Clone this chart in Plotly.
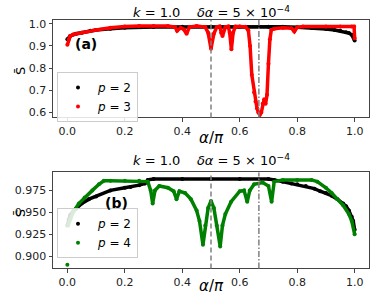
import plotly.graph_objects as go

# ---------------- data ----------------
# panel (a)
a_p2_x = [0.0, 0.01, 0.03, 0.05, 0.08, 0.1, 0.15, 0.2, 0.3, 0.4, 0.5, 0.6, 0.7, 0.75, 0.8,
          0.85, 0.9, 0.93, 0.95, 0.97, 0.98, 0.99, 1.0]
a_p2_y = [0.93, 0.945, 0.955, 0.96, 0.968, 0.972, 0.978, 0.982, 0.985, 0.986, 0.987, 0.987,
          0.987, 0.986, 0.984, 0.981, 0.976, 0.972, 0.968, 0.962, 0.958, 0.95, 0.925]

a_p3_x = [0.0, 0.005, 0.01, 0.02, 0.05, 0.1, 0.15, 0.2, 0.25, 0.3, 0.35, 0.375, 0.382, 0.395,
          0.405, 0.415, 0.425, 0.45, 0.48, 0.49, 0.5, 0.51, 0.52, 0.53, 0.535, 0.54, 0.55,
          0.56, 0.565, 0.571, 0.577, 0.585, 0.6, 0.62, 0.63, 0.636, 0.642, 0.65, 0.655, 0.66,
          0.665, 0.67, 0.675, 0.68, 0.685, 0.69, 0.695, 0.70, 0.705, 0.71, 0.72, 0.75, 0.78,
          0.79, 0.80, 0.82, 0.9, 0.95, 0.99, 0.998, 1.0]
a_p3_y = [0.905, 0.93, 0.945, 0.952, 0.96, 0.972, 0.982, 0.988, 0.99, 0.99, 0.99, 0.985,
          0.968, 0.982, 0.975, 0.955, 0.985, 0.99, 0.985, 0.96, 0.888, 0.955, 0.985, 0.988,
          0.96, 0.945, 0.985, 0.988, 0.96, 0.885, 0.96, 0.988, 0.988, 0.986, 0.97, 0.9,
          0.77, 0.69, 0.65, 0.62, 0.6, 0.59, 0.6, 0.64, 0.66, 0.64, 0.68, 0.82, 0.93, 0.972,
          0.978, 0.982, 0.98, 0.965, 0.984, 0.988, 0.988, 0.988, 0.988, 0.988, 0.935]

# panel (b)
b_p2_x = [0.0, 0.005, 0.01, 0.02, 0.03, 0.05, 0.075, 0.1, 0.15, 0.2, 0.22, 0.25, 0.27, 0.28,
          0.3, 0.4, 0.5, 0.6, 0.7, 0.72, 0.75, 0.78, 0.8, 0.83, 0.86, 0.88, 0.9, 0.92, 0.94,
          0.96, 0.97, 0.98, 0.99, 0.995, 1.0]
b_p2_y = [0.935, 0.942, 0.947, 0.951, 0.954, 0.96, 0.965, 0.968, 0.975, 0.978, 0.979, 0.981,
          0.983, 0.987, 0.988, 0.988, 0.988, 0.988, 0.988, 0.987, 0.985, 0.983, 0.982, 0.98,
          0.977, 0.974, 0.972, 0.969, 0.965, 0.96, 0.957, 0.952, 0.945, 0.94, 0.93]

b_p4_x = [0.0, None, 0.003, 0.01, 0.02, 0.04, 0.06, 0.087, 0.11, 0.127, 0.15, 0.2, 0.25, 0.28,
          0.29, 0.297, 0.305, 0.32, 0.35, 0.37, 0.38, 0.39, 0.41, 0.43, 0.45, 0.46, 0.472,
          0.48, 0.49, 0.5, 0.51, 0.52, 0.532, 0.54, 0.55, 0.57, 0.6, 0.615, 0.626, 0.635,
          0.65, 0.68, 0.70, 0.711, 0.72, 0.75, 0.8, 0.85, 0.87, 0.9, 0.92, 0.94, 0.96, 0.98,
          0.99, 1.0]
b_p4_y = [0.89, None, 0.935, 0.942, 0.95, 0.96, 0.967, 0.975, 0.982, 0.986, 0.986, 0.986,
          0.986, 0.985, 0.975, 0.96, 0.975, 0.98, 0.978, 0.974, 0.965, 0.974, 0.972, 0.965,
          0.952, 0.94, 0.913, 0.935, 0.955, 0.963, 0.955, 0.935, 0.911, 0.935, 0.948, 0.962,
          0.974, 0.975, 0.962, 0.975, 0.982, 0.984, 0.98, 0.962, 0.985, 0.987, 0.987, 0.987,
          0.985, 0.978, 0.972, 0.965, 0.958, 0.948, 0.94, 0.925]

vlines = [0.5, 2 / 3]
x_ticks = [0.0, 0.2, 0.4, 0.6, 0.8, 1.0]
a_y_ticks = [0.6, 0.7, 0.8, 0.9, 1.0]
b_y_ticks = [0.900, 0.925, 0.950, 0.975]

title_text = "<i>k</i> = 1.0    <i>δα</i> = 5 × 10<sup>−4</sup>"

# ---------------- figure ----------------
FONT = "DejaVu Sans"
fig = go.Figure()


def series(x, y, color, xa, ya):
    fig.add_trace(go.Scatter(x=x, y=y, mode="lines+markers", xaxis=xa, yaxis=ya,
                             line=dict(color=color, width=3.5), marker=dict(color=color, size=4),
                             connectgaps=False, showlegend=False, hoverinfo="skip"))


series(a_p2_x, a_p2_y, "black", "x", "y")
series(a_p3_x, a_p3_y, "#ff0000", "x", "y")
series(b_p2_x, b_p2_y, "black", "x2", "y2")
series(b_p4_x, b_p4_y, "#008000", "x2", "y2")

# legend-only entries
for name, color, lg in [("<i>p</i> = 2", "black", "legend"), ("<i>p</i> = 3", "#ff0000", "legend"),
                        ("<i>p</i> = 2", "black", "legend2"), ("<i>p</i> = 4", "#008000", "legend2")]:
    fig.add_trace(go.Scatter(x=[None], y=[None], mode="markers", name=name,
                             marker=dict(color=color, size=4), legend=lg,
                             xaxis="x" if lg == "legend" else "x2",
                             yaxis="y" if lg == "legend" else "y2"))

W, H = 374, 305
xd = [53 / W, 369 / W]
yd_a = [1 - 117 / H, 1 - 18 / H]
yd_b = [1 - 270 / H, 1 - 172.7 / H]

axis_common = dict(showline=True, mirror=True, linecolor="#444", linewidth=1, ticks="outside",
                   ticklen=3.5, tickcolor="#444", showgrid=False, zeroline=False,
                   tickfont=dict(family=FONT, size=11, color="#222"))

legend_common = dict(xanchor="left", yanchor="top", bgcolor="rgba(255,255,255,0.85)",
                     bordercolor="#cccccc", borderwidth=1, itemwidth=30,
                     font=dict(family=FONT, size=12, color="black"),
                     tracegroupgap=0)

fig.update_layout(
    width=W, height=H, margin=dict(l=0, r=0, t=0, b=0),
    paper_bgcolor="white", plot_bgcolor="white",
    xaxis=dict(domain=xd, anchor="y", range=[-0.05, 1.05], tickvals=x_ticks,
               tickformat=".1f", **axis_common),
    yaxis=dict(domain=yd_a, anchor="x", range=[0.578, 1.018], tickvals=a_y_ticks,
               tickformat=".1f", **axis_common),
    xaxis2=dict(domain=xd, anchor="y2", range=[-0.05, 1.05], tickvals=x_ticks,
                tickformat=".1f", **axis_common),
    yaxis2=dict(domain=yd_b, anchor="x2", range=[0.8858, 0.9955], tickvals=b_y_ticks,
                tickformat=".3f", **axis_common),
    legend=dict(x=57 / W, y=1 - 71 / H, **legend_common),
    legend2=dict(x=57 / W, y=1 - 209 / H, **legend_common),
)

# vertical reference lines
for xr, yr in [("x", "y"), ("x2", "y2")]:
    for v, dash in zip(vlines, ["5px,3px", "6px,2px,1.5px,2px"]):
        fig.add_shape(type="line", xref=xr, yref=yr + " domain", x0=v, x1=v, y0=0, y1=1,
                      line=dict(color="#808080", width=1.5, dash=dash), layer="above")

# titles, labels
ann_font = dict(family=FONT, size=13, color="black")
for ytop in [10, 160]:
    fig.add_annotation(text=title_text, x=211 / W, y=1 - ytop / H, xref="paper", yref="paper",
                       showarrow=False, font=ann_font, xanchor="center", yanchor="middle")
for yc in [138, 288]:
    fig.add_annotation(text="<i>α</i>/<i>π</i>", x=211 / W, y=1 - yc / H, xref="paper",
                       yref="paper", showarrow=False,
                       font=dict(family=FONT, size=15, color="black"),
                       xanchor="center", yanchor="middle")
for yc in [70, 214]:
    fig.add_annotation(text="S\u0304", x=20 / W, y=1 - yc / H, xref="paper", yref="paper",
                       showarrow=False, textangle=-90,
                       font=dict(family=FONT, size=13, color="black"),
                       xanchor="center", yanchor="middle")
fig.add_annotation(text="<b>(a)</b>", x=86 / W, y=1 - 43 / H, xref="paper", yref="paper",
                   showarrow=False, xanchor="center", yanchor="middle",
                   font=dict(family=FONT, size=14, color="black"))
fig.add_annotation(text="<b>(b)</b>", x=116 / W, y=1 - 204 / H, xref="paper", yref="paper",
                   showarrow=False, xanchor="center", yanchor="middle",
                   font=dict(family=FONT, size=14, color="black"))

fig.write_html("out.html", config={"displayModeBar": False},
               post_script="document.body.style.margin='0';"
               "document.body.style.overflow='hidden';")
